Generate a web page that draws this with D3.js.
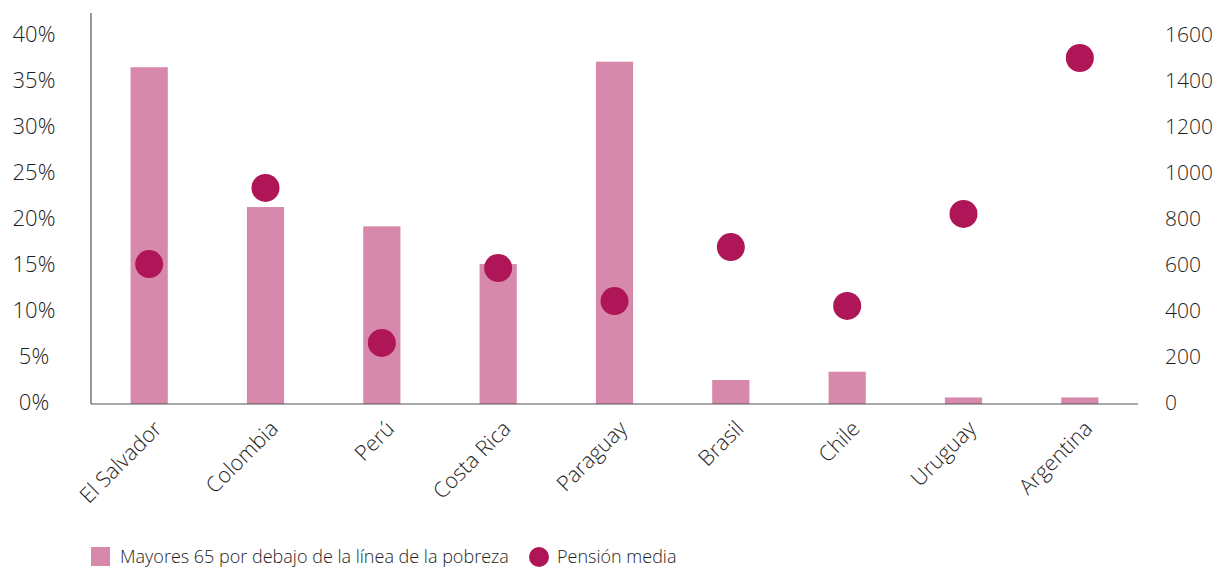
<!DOCTYPE html>
<html>
<head>
<meta charset="utf-8">
<script src="https://cdn.jsdelivr.net/npm/d3@7"></script>
<style>
  body { margin: 0; background: #fff; }
  text { font-family: "Open Sans", "Noto Sans", sans-serif; font-weight: 300; fill: #1e1e1e; }
</style>
</head>
<body>
<script>
var paises = ["El Salvador", "Colombia", "Perú", "Costa Rica", "Paraguay", "Brasil", "Chile", "Uruguay", "Argentina"];
var pobreza = [36.5, 21.3, 19.2, 15.1, 37.1, 2.5, 3.4, 0.6, 0.6];
var pension = [604, 935, 261, 587, 443, 678, 422, 822, 1500];
var ticksIzq = [0, 5, 10, 15, 20, 25, 30, 35, 40];
var ticksDer = [0, 200, 400, 600, 800, 1000, 1200, 1400, 1600];

var w = 1217, h = 568;
var izq = 91, der = 1138, base = 404, tope = 35;

var svg = d3.select("body").append("svg")
    .attr("width", w)
    .attr("height", h);

var x = d3.scaleBand()
    .domain(paises)
    .range([izq, der])
    .paddingInner(0.68)
    .paddingOuter(0.34);

var yIzq = d3.scaleLinear().domain([0, 40]).range([base - 1, tope]);
var yDer = d3.scaleLinear().domain([0, 1600]).range([base - 1, tope]);

// barras
svg.selectAll("rect.barra")
    .data(pobreza)
    .enter()
    .append("rect")
    .attr("class", "barra")
    .attr("x", function (d, i) { return x(paises[i]); })
    .attr("width", x.bandwidth())
    .attr("y", function (d) { return yIzq(d); })
    .attr("height", function (d) { return base - yIzq(d); })
    .attr("fill", "#d689ab");

// ejes
svg.append("line")
    .attr("x1", izq).attr("x2", izq)
    .attr("y1", 13).attr("y2", base)
    .attr("stroke", "#555").attr("stroke-width", 1.2);
svg.append("line")
    .attr("x1", izq).attr("x2", der)
    .attr("y1", base).attr("y2", base)
    .attr("stroke", "#555").attr("stroke-width", 1.2);

var ejeIzq = svg.append("g")
    .attr("transform", "translate(" + (izq - 57) + ",0)")
    .call(d3.axisLeft(yIzq).tickValues(ticksIzq).tickSize(0)
        .tickFormat(function (d) { return d + "%"; }));
ejeIzq.select(".domain").remove();
ejeIzq.selectAll("text")
    .attr("text-anchor", "middle")
    .attr("x", 0)
    .attr("dy", "0.3em")
    .style("font-size", "22px");

var ejeDer = svg.append("g")
    .attr("transform", "translate(" + (der + 27) + ",0)")
    .call(d3.axisRight(yDer).tickValues(ticksDer).tickSize(0)
        .tickFormat(d3.format("d")));
ejeDer.select(".domain").remove();
ejeDer.selectAll("text")
    .attr("x", 0)
    .attr("dy", "0.3em")
    .style("font-size", "21px");

// etiquetas de países
svg.selectAll("text.pais")
    .data(paises)
    .enter()
    .append("text")
    .attr("class", "pais")
    .attr("text-anchor", "end")
    .attr("transform", function (d) {
        var cx = x(d) + x.bandwidth() / 2 + 14;
        return "translate(" + cx + "," + 430 + ") rotate(-45)";
    })
    .style("font-size", "21.5px")
    .text(function (d) { return d; });

// puntos de pensión media
svg.selectAll("circle.punto")
    .data(pension)
    .enter()
    .append("circle")
    .attr("class", "punto")
    .attr("cx", function (d, i) { return x(paises[i]) + x.bandwidth() / 2; })
    .attr("cy", function (d) { return yDer(d); })
    .attr("r", 14)
    .attr("fill", "#ae1657");

// leyenda
var ley = svg.append("g");
ley.append("rect")
    .attr("x", 91).attr("y", 547)
    .attr("width", 19).attr("height", 19)
    .attr("fill", "#d689ab");
ley.append("text")
    .attr("x", 120).attr("y", 563)
    .style("font-size", "18px")
    .text("Mayores 65 por debajo de la línea de la pobreza");
ley.append("circle")
    .attr("cx", 539).attr("cy", 557).attr("r", 10)
    .attr("fill", "#ae1657");
ley.append("text")
    .attr("x", 557).attr("y", 563)
    .style("font-size", "18px")
    .text("Pensión media");
</script>
</body>
</html>
